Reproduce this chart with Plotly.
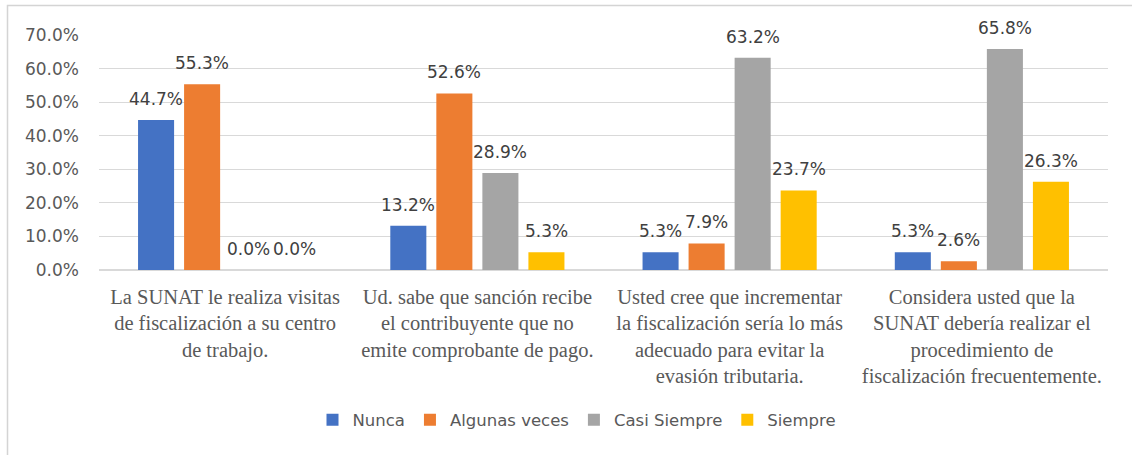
import plotly.graph_objects as go

categories = [
    "La SUNAT le realiza visitas<br>de fiscalización a su centro<br>de trabajo.",
    "Ud. sabe que sanción recibe<br>el contribuyente que no<br>emite comprobante de pago.",
    "Usted cree que incrementar<br>la fiscalización sería lo más<br>adecuado para evitar la<br>evasión tributaria.",
    "Considera usted que la<br>SUNAT debería realizar el<br>procedimiento de<br>fiscalización frecuentemente.",
]
series_names = ["Nunca", "Algunas veces", "Casi Siempre", "Siempre"]
nunca = [0.447, 0.132, 0.053, 0.053]
algunas_veces = [0.553, 0.526, 0.079, 0.026]
casi_siempre = [0.0, 0.289, 0.632, 0.658]
siempre = [0.0, 0.053, 0.237, 0.263]
y_ticks = [0.0, 0.1, 0.2, 0.3, 0.4, 0.5, 0.6, 0.7]

series_values = [nunca, algunas_veces, casi_siempre, siempre]
colors = ["#4472C4", "#ED7D31", "#A5A5A5", "#FFC000"]

W, H = 1132, 455
ML, MR, MT, MB = 99, 24, 35, 185
plot_w = W - ML - MR
plot_h = H - MT - MB
BARGAP = 0.27
BARGROUPGAP = 0.217
slot = plot_w / len(categories) * (1 - BARGAP) / len(series_names)

fig = go.Figure()
annotations = []
for i, (name, vals, col) in enumerate(zip(series_names, series_values, colors)):
    fig.add_trace(go.Bar(
        x=categories, y=vals, name=name, marker=dict(color=col, line=dict(width=0)),
    ))
    for c, v in zip(categories, vals):
        annotations.append(dict(
            x=c, y=v, xref="x", yref="y", text=f"{v*100:.1f}%", showarrow=False,
            xshift=(i - 1.5) * slot, yshift=21, yanchor="middle",
            font=dict(family="DejaVu Sans", size=17, color="#404040"),
        ))

def px_to_paper_x(px):
    return (px - ML) / plot_w

def px_to_paper_y(py):
    return (H - MB - py) / plot_h

fig.update_layout(
    width=W, height=H,
    margin=dict(l=ML, r=MR, t=MT, b=MB),
    paper_bgcolor="white", plot_bgcolor="white",
    barmode="group", bargap=BARGAP, bargroupgap=BARGROUPGAP,
    annotations=annotations,
    showlegend=True,
    legend=dict(
        orientation="h", x=px_to_paper_x(577), xanchor="center",
        y=px_to_paper_y(420), yanchor="middle",
        font=dict(family="DejaVu Sans", size=16.5, color="#595959"),
        traceorder="normal",
    ),
    shapes=[dict(
        type="rect", xref="paper", yref="paper", layer="below",
        x0=px_to_paper_x(7.5), x1=px_to_paper_x(1140),
        y0=px_to_paper_y(470), y1=px_to_paper_y(5.5),
        line=dict(color="#D4D4D4", width=1.5), fillcolor="rgba(0,0,0,0)",
    )],
    xaxis=dict(
        tickfont=dict(family="Liberation Serif", size=20.5, color="#595959"),
        showgrid=False, showline=False, ticks="", tickangle=0,
        ticklabelstandoff=12,
    ),
    yaxis=dict(
        range=[0, 0.7], tickvals=y_ticks, tickformat=".1%",
        tickfont=dict(family="DejaVu Sans", size=17, color="#595959"),
        showgrid=True, gridcolor="#D9D9D9", gridwidth=1,
        zeroline=True, zerolinecolor="#D9D9D9", zerolinewidth=1.5,
        showline=False, ticklabelstandoff=19,
    ),
)

fig.write_html(
    "out.html",
    config={"displayModeBar": False},
    post_script="document.body.style.margin='0';document.body.style.overflow='hidden';",
)
